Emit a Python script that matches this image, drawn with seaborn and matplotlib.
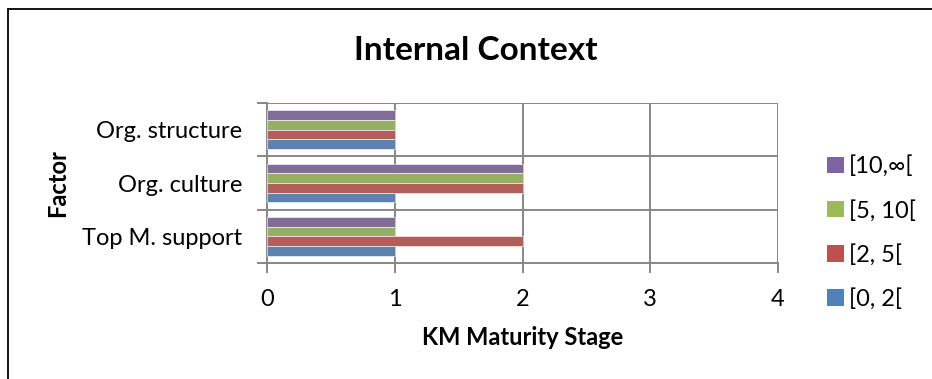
import matplotlib
matplotlib.use("Agg")
import matplotlib.pyplot as plt
from matplotlib.lines import Line2D
from matplotlib.patches import Patch
import seaborn as sns
import pandas as pd

# Factors (top to bottom) and experience ranges
factors = ["Org. structure", "Org. culture", "Top M. support"]
ranges = ["[10,\u221e[", "[5, 10[", "[2, 5[", "[0, 2["]

# KM maturity stage per factor, one list per experience range
stage_10_inf = [1, 2, 1]
stage_5_10 = [1, 2, 1]
stage_2_5 = [1, 2, 2]
stage_0_2 = [1, 1, 1]

colors = ["#8064A2", "#9BBB59", "#C0504D", "#4F81BD"]
xticks = [0, 1, 2, 3, 4]

rows = []
for rng, vals in zip(ranges, [stage_10_inf, stage_5_10, stage_2_5, stage_0_2]):
    for f, v in zip(factors, vals):
        rows.append({"Factor": f, "Range": rng, "Stage": v})
df = pd.DataFrame(rows)

sns.set_theme(style="white")
plt.rcParams["font.family"] = ["Lato", "DejaVu Sans"]
plt.rcParams["text.color"] = "black"
plt.rcParams["axes.labelcolor"] = "black"

fig = plt.figure(figsize=(9.32, 3.79), dpi=100)
ax = fig.add_axes([267 / 932, 1 - 263 / 379, (778 - 267) / 932, (263 - 103) / 379])

sns.barplot(data=df, x="Stage", y="Factor", hue="Range", order=factors,
            hue_order=ranges, palette=colors, orient="h", width=0.72,
            edgecolor="white", linewidth=0.4, ax=ax, legend=False, zorder=3)

grid_c = "#878787"
ax.set_xlim(0, 4)
ax.set_ylim(2.5, -0.5)
ax.set_xticks(xticks)
ax.set_xticklabels([str(t) for t in xticks])
ax.set_yticks([0, 1, 2])
ax.set_yticks([-0.5, 0.5, 1.5, 2.5], minor=True)
for x in xticks[1:]:
    ax.axvline(x, color=grid_c, lw=1.4, zorder=1)
for y in [-0.5, 0.5, 1.5]:
    ax.axhline(y, color=grid_c, lw=1.4, zorder=1)
for s in ["top", "right"]:
    ax.spines[s].set_visible(False)
for s in ["left", "bottom"]:
    ax.spines[s].set_color(grid_c)
    ax.spines[s].set_linewidth(1.4)

ax.tick_params(axis="y", which="major", length=0, pad=18, labelsize=17, colors="black")
ax.tick_params(axis="y", which="minor", length=7, width=1.4, color=grid_c, direction="out", left=True)
ax.tick_params(axis="x", which="major", length=7, width=1.4, color=grid_c, direction="out",
               bottom=True, pad=12, labelsize=17, labelcolor="black")

ax.set_xlabel("KM Maturity Stage", fontsize=17, fontweight="bold", labelpad=11.5)
ax.set_ylabel("Factor", fontsize=17, fontweight="bold", labelpad=9)

fig.text(476 / 932, 1 - 51 / 379, "Internal Context", ha="center", va="center",
         fontsize=24, fontweight="bold", color="black")

handles = [Patch(facecolor=c, edgecolor="none") for c in colors]
fig.legend(handles, ranges, loc="upper left", bbox_to_anchor=(818 / 932, 1 - 146 / 379),
           frameon=False, fontsize=17, handlelength=0.7, handleheight=0.7,
           handletextpad=0.2, labelspacing=0.95, borderaxespad=0)

# Chart frame
fig.add_artist(Line2D([7.5 / 932, 7.5 / 932], [0, 1 - 8.5 / 379], color="black", lw=1.3,
                      transform=fig.transFigure))
fig.add_artist(Line2D([7.5 / 932, 1], [1 - 8.5 / 379, 1 - 8.5 / 379], color="black", lw=1.3,
                      transform=fig.transFigure))

fig.savefig("out.png", dpi=100, facecolor="white")
